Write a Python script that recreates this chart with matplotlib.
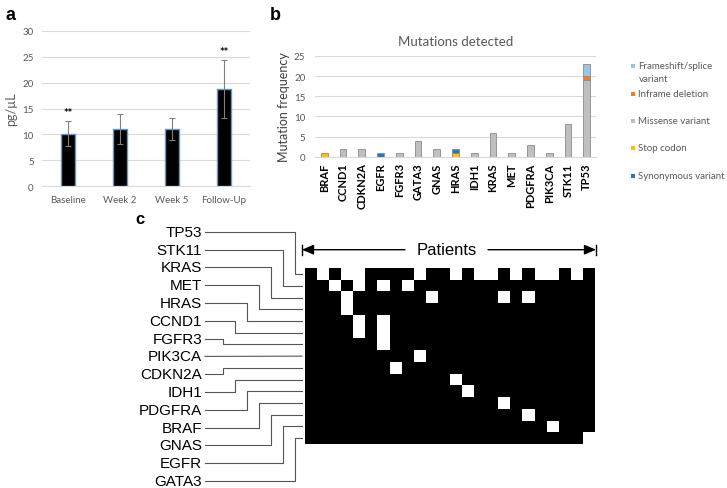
import numpy as np
import matplotlib
matplotlib.use('Agg')
import matplotlib.pyplot as plt
from matplotlib.patches import FancyArrowPatch

# --- data ---
# panel a: cfDNA concentration
timepoints = ['Baseline', 'Week 2', 'Week 5', 'Follow-Up']
cfdna_mean = [10.1, 11.1, 11.0, 18.7]
cfdna_err = [2.4, 2.9, 2.15, 5.6]
cfdna_sig = ['**', '', '', '**']

# panel b: mutations detected per gene
genes_b = ['BRAF', 'CCND1', 'CDKN2A', 'EGFR', 'FGFR3', 'GATA3', 'GNAS', 'HRAS',
           'IDH1', 'KRAS', 'MET', 'PDGFRA', 'PIK3CA', 'STK11', 'TP53']
missense = [0, 2, 2, 0, 1, 4, 2, 0, 1, 6, 1, 3, 1, 8, 19]
stop_codon = [1, 0, 0, 0, 0, 0, 0, 1, 0, 0, 0, 0, 0, 0, 0]
synonymous = [0, 0, 0, 1, 0, 0, 0, 1, 0, 0, 0, 0, 0, 0, 0]
inframe = [0, 0, 0, 0, 0, 0, 0, 0, 0, 0, 0, 0, 0, 0, 1]
frameshift = [0, 0, 0, 0, 0, 0, 0, 0, 0, 0, 0, 0, 0, 0, 3]
legend_labels = ['Frameshift/splice\nvariant', 'Inframe deletion', 'Missense variant',
                 'Stop codon', 'Synonymous variant']

# panel c: patient matrix (white cells per gene row)
genes_c = ['TP53', 'STK11', 'KRAS', 'MET', 'HRAS', 'CCND1', 'FGFR3', 'PIK3CA',
           'CDKN2A', 'IDH1', 'PDGFRA', 'BRAF', 'GNAS', 'EGFR', 'GATA3']
n_patients = 24
white_cells = [
    [1, 3, 4, 9, 12, 14, 15, 17, 19, 20, 22],
    [2, 4, 6, 8],
    [3, 10, 16, 18],
    [3],
    [4, 6],
    [4, 6],
    [6],
    [9],
    [7],
    [12],
    [13],
    [16],
    [18],
    [20],
    [23],
]

# --- style ---
W, H = 727, 489
GRID = '#D9D9D9'
TXT = '#595959'
XL = ['Lato', 'DejaVu Sans']
AR = ['Liberation Sans', 'DejaVu Sans']

fig = plt.figure(figsize=(W / 100, H / 100), dpi=100)


def px_axes(x0, y0, x1, y1):
    return fig.add_axes([x0 / W, 1 - y1 / H, (x1 - x0) / W, (y1 - y0) / H])


# overlay in pixel coordinates for panel c connectors/labels
ov = fig.add_axes([0, 0, 1, 1])
ov.set_xlim(0, W)
ov.set_ylim(H, 0)
ov.axis('off')

# ---------------- panel a ----------------
ax = px_axes(42, 31.7, 250, 187.3)
x = np.arange(len(timepoints))
ax.bar(x, cfdna_mean, width=0.26, color='black', edgecolor='#5B9BD5', linewidth=1.0, zorder=3)
ax.errorbar(x, cfdna_mean, yerr=cfdna_err, fmt='none', ecolor='#808080',
            elinewidth=0.8, capsize=2.5, capthick=0.8, zorder=4)
for xi, m, e, s in zip(x, cfdna_mean, cfdna_err, cfdna_sig):
    if s:
        ax.text(xi, m + e + 0.7, s, ha='center', va='bottom', fontsize=8,
                fontweight='bold', family=XL)
ax.set_ylim(0, 30)
ax.set_xlim(-0.5, len(timepoints) - 0.5)
ax.set_yticks(range(0, 31, 5))
ax.yaxis.grid(True, color=GRID, linewidth=0.8, zorder=0)
ax.set_axisbelow(True)
for sp in ['top', 'right', 'left']:
    ax.spines[sp].set_visible(False)
ax.spines['bottom'].set_color(GRID)
ax.tick_params(length=0, labelsize=7, labelcolor=TXT, pad=6)
ax.set_xticks(x)
ax.set_xticklabels(timepoints, family=XL)
for lb in ax.get_yticklabels():
    lb.set_family(XL)
ax.set_ylabel('pg/µL', fontsize=9, color=TXT, family=XL, labelpad=4)

# ---------------- panel b ----------------
bx = px_axes(315, 57, 596, 157.7)
xb = np.arange(len(genes_b))
stack = [(missense, '#BFBFBF'), (stop_codon, '#FFC000'), (synonymous, '#2E75B6'),
         (inframe, '#ED7D31'), (frameshift, '#9DC3E6')]
bottom = np.zeros(len(genes_b))
for vals, col in stack:
    v = np.array(vals, dtype=float)
    bx.bar(xb[v > 0], v[v > 0], bottom=bottom[v > 0], width=0.36, color=col,
           edgecolor='#8C8C8C', linewidth=0.6, zorder=3)
    bottom += v
bx.set_ylim(0, 25)
bx.set_xlim(-0.5, len(genes_b) - 0.5)
bx.set_yticks(range(0, 26, 5))
bx.yaxis.grid(True, color=GRID, linewidth=0.8, zorder=0)
bx.set_axisbelow(True)
for sp in ['top', 'right', 'left']:
    bx.spines[sp].set_visible(False)
bx.spines['bottom'].set_color(GRID)
bx.tick_params(axis='y', length=0, labelsize=7, labelcolor=TXT, pad=7)
bx.tick_params(axis='x', length=0, pad=4)
bx.set_xticks(xb)
bx.set_xticklabels(genes_b, rotation=90, fontsize=8, fontweight='bold', family=XL)
for lb in bx.get_yticklabels():
    lb.set_family(XL)
bx.set_ylabel('Mutation frequency', fontsize=9, color='#404040', family=XL, labelpad=3)
bx.set_title('Mutations detected', fontsize=9.5, color=TXT, family=XL, pad=8)

# legend (Excel style, right side)
leg_cols = ['#9DC3E6', '#ED7D31', '#BFBFBF', '#FFC000', '#2E75B6']
leg_y = [67, 94.7, 122, 149, 176.7]
for lab, col, ly in zip(legend_labels, leg_cols, leg_y):
    ov.scatter(633, ly, marker='s', s=9, color=col, linewidths=0)
    ov.text(638.5, ly - 5, lab, fontsize=7, color=TXT, family=XL, va='top',
            ha='left', linespacing=1.5)

# ---------------- panel c ----------------
mx0, mx1, my0, my1 = 304.7, 594.2, 269.3, 445.0
cx = px_axes(mx0, my0, mx1, my1)
mat = np.ones((len(genes_c), n_patients))
for r, cols in enumerate(white_cells):
    mat[r, cols] = 0
cx.imshow(mat, cmap='gray_r', vmin=0, vmax=1, aspect='auto', interpolation='nearest')
cx.axis('off')

row_h = (my1 - my0) / len(genes_c)
label_y0, label_dy = 232.8, 17.8
mid = len(genes_c) // 2
for i, g in enumerate(genes_c):
    ly = label_y0 + i * label_dy
    ry = my0 + (i + 0.5) * row_h
    ov.text(202, ly, g, ha='right', va='center', fontsize=11, family=AR)
    if i == mid:
        ov.plot([205, 302], [ly, ry], color='#555555', lw=0.8)
    else:
        ex = 223 + 12 * (mid - 1 - i) if i < mid else 223 + 12 * (i - mid - 1)
        ov.plot([205, ex, ex, 302], [ly, ly, ry, ry], color='#555555', lw=0.8)

# Patients arrow
ay = 250.7
ov.plot([302, 302], [ay - 5, ay + 5], color='black', lw=1)
ov.plot([596, 596], [ay - 5, ay + 5], color='black', lw=1)
for xs, xe in [(405, 302), (488, 596)]:
    ov.add_patch(FancyArrowPatch((xs, ay), (xe, ay), arrowstyle='-|>,head_length=7,head_width=3',
                                 color='black', lw=1, shrinkA=0, shrinkB=0, mutation_scale=1))
ov.text(446.5, ay, 'Patients', ha='center', va='center', fontsize=12, family=AR)

# panel letters
ov.text(6, 16, 'a', fontsize=13, fontweight='bold', family=AR, va='center')
ov.text(270, 15, 'b', fontsize=13, fontweight='bold', family=AR, va='center')
ov.text(135, 220, 'c', fontsize=12, fontweight='bold', family=AR, va='center')

fig.savefig('out.png', dpi=100)
